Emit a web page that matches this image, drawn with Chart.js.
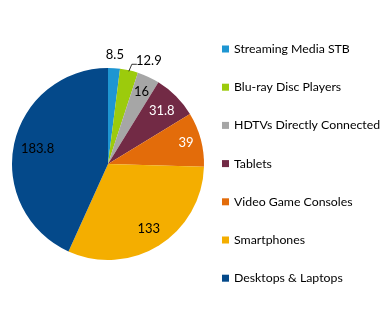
<!DOCTYPE html>
<html><head><meta charset="utf-8">
<script src="https://cdn.jsdelivr.net/npm/chart.js@4.4.1/dist/chart.umd.min.js"></script>
<style>html,body{margin:0;padding:0;background:#fff}#wrap{width:380px;height:325px}</style>
</head><body><div id="wrap"><canvas id="c" width="380" height="325"></canvas></div>
<script>
const categories = ["Streaming Media STB","Blu-ray Disc Players","HDTVs Directly Connected","Tablets","Video Game Consoles","Smartphones","Desktops & Laptops"];
const values = [8.5, 12.9, 16, 31.8, 39, 133, 183.8];
const colors = ["#1E96D2","#9CCB0C","#A6A6A6","#722A45","#E36C0A","#F4AE00","#04498A"];
const labelColors = ["#000","#000","#000","#fff","#fff","#000","#000"];
const FONT = "Lato, 'Open Sans', sans-serif";

const labelPlugin = {
  id: 'sliceLabels',
  afterDatasetsDraw(chart) {
    const ctx = chart.ctx;
    const meta = chart.getDatasetMeta(0);
    ctx.save();
    ctx.font = "13px " + FONT;
    ctx.textAlign = 'center';
    ctx.textBaseline = 'middle';
    meta.data.forEach((arc, i) => {
      const p = arc.getProps(['x','y','startAngle','endAngle','outerRadius'], true);
      const mid = (p.startAngle + p.endAngle) / 2;
      const r = p.outerRadius;
      let tx, ty;
      if (i === 0) {
        tx = p.x + Math.cos(mid) * r * 1.14; ty = p.y + Math.sin(mid) * r * 1.14;
      } else if (i === 1) {
        const ax = p.x + Math.cos(mid) * r * 0.99, ay = p.y + Math.sin(mid) * r * 0.99;
        const bx = ax + 3, by = ay - 7;
        ctx.strokeStyle = '#000'; ctx.lineWidth = 0.8;
        ctx.beginPath(); ctx.moveTo(ax, ay); ctx.lineTo(bx, by); ctx.lineTo(bx + 5, by); ctx.stroke();
        tx = bx + 17; ty = by - 3;
      } else {
        const f = [0,0,0.83,0.79,0.84,0.8,0.75][i];
        tx = p.x + Math.cos(mid) * r * f; ty = p.y + Math.sin(mid) * r * f;
      }
      ctx.fillStyle = labelColors[i];
      ctx.fillText(String(values[i]), tx, ty);
    });
    ctx.restore();
  }
};

const legendPlugin = {
  id: 'sideLegend',
  afterDraw(chart) {
    const ctx = chart.ctx;
    ctx.save();
    ctx.font = "12.3px " + FONT;
    ctx.textBaseline = 'middle';
    ctx.textAlign = 'left';
    categories.forEach((c, i) => {
      const y = 49 + i * 38.2;
      ctx.fillStyle = colors[i];
      ctx.fillRect(222, y - 3.5, 7, 7);
      ctx.fillStyle = '#000';
      ctx.fillText(c, 234, y);
    });
    ctx.restore();
  }
};

new Chart(document.getElementById('c'), {
  type: 'pie',
  data: { labels: categories, datasets: [{ data: values, backgroundColor: colors, borderWidth: 0 }] },
  options: {
    responsive: false, animation: false,
    layout: { padding: { left: 12, top: 68, right: 176, bottom: 65 } },
    plugins: { legend: { display: false }, tooltip: { enabled: false } }
  },
  plugins: [labelPlugin, legendPlugin]
});
</script></body></html>
